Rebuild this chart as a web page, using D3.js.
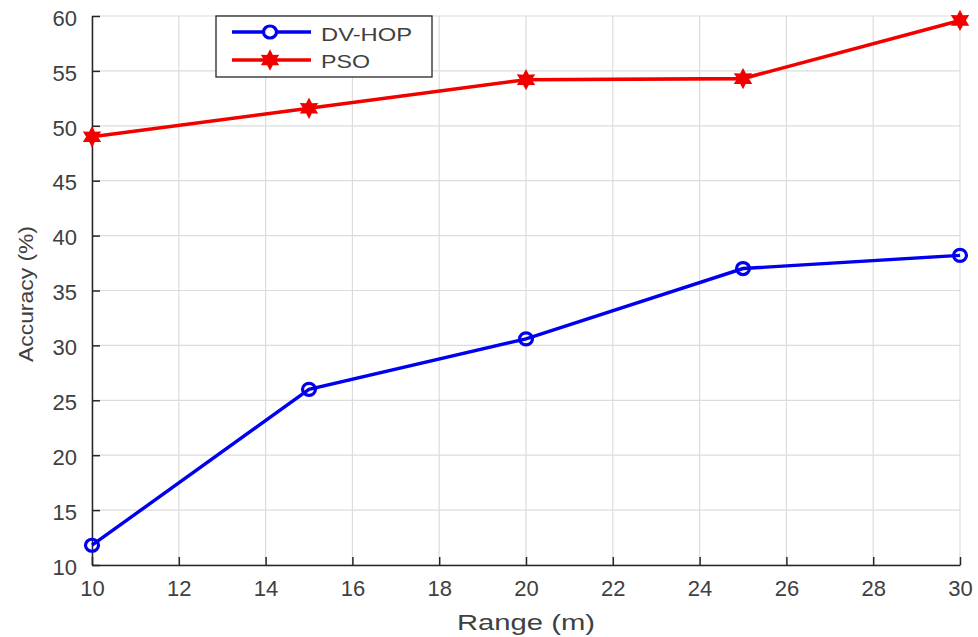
<!DOCTYPE html>
<html>
<head>
<meta charset="utf-8">
<script src="https://cdn.jsdelivr.net/npm/d3@7"></script>
<style>
  body { margin: 0; background: #fff; }
  svg { display: block; }
  text { font-family: "Liberation Sans", Arial, sans-serif; }
</style>
</head>
<body>
<svg id="chart" width="978" height="637"></svg>
<script>
// Node range (m) versus localisation accuracy for two methods
const ranges = [10, 15, 20, 25, 30];
const dvhop = [11.8, 26.0, 30.6, 37.0, 38.2];
const pso = [49.0, 51.6, 54.2, 54.3, 59.6];
const xTicks = [10, 12, 14, 16, 18, 20, 22, 24, 26, 28, 30];
const yTicks = [10, 15, 20, 25, 30, 35, 40, 45, 50, 55, 60];
const seriesNames = ["DV-HOP", "PSO"];

const svg = d3.select("#chart");
const plotL = 92, plotR = 960, plotT = 16, plotB = 565;

const x = d3.scaleLinear().domain([10, 30]).range([plotL, plotR]);
const y = d3.scaleLinear().domain([10, 60]).range([plotB, plotT]);

const gridColor = "#dcdcdc";
const axisColor = "#262626";
const labelColor = "#404040";

// grid
svg.append("g").selectAll("line").data(xTicks).join("line")
  .attr("x1", d => x(d)).attr("x2", d => x(d))
  .attr("y1", plotT).attr("y2", plotB)
  .attr("stroke", gridColor).attr("stroke-width", 1.2);
svg.append("g").selectAll("line").data(yTicks).join("line")
  .attr("x1", plotL).attr("x2", plotR)
  .attr("y1", d => y(d)).attr("y2", d => y(d))
  .attr("stroke", gridColor).attr("stroke-width", 1.2);

// axes with inward ticks
const xAxis = d3.axisBottom(x).tickValues(xTicks).tickSizeInner(-8).tickSizeOuter(0).tickPadding(15);
const yAxis = d3.axisLeft(y).tickValues(yTicks).tickSizeInner(-8).tickSizeOuter(0).tickPadding(15);

const gx = svg.append("g").attr("transform", `translate(0,${plotB})`).call(xAxis);
const gy = svg.append("g").attr("transform", `translate(${plotL},0)`).call(yAxis);
[gx, gy].forEach(g => {
  g.select(".domain").attr("stroke", axisColor).attr("stroke-width", 1.5);
  g.selectAll(".tick line").attr("stroke", axisColor).attr("stroke-width", 1.5);
  g.selectAll(".tick text").attr("fill", labelColor).style("font-size", "22px")
    .style("font-family", "'Liberation Sans', Arial, sans-serif");
});
gy.selectAll(".tick text").attr("dy", "0.42em");

// axis titles
svg.append("text").attr("x", 526).attr("y", 630)
  .attr("text-anchor", "middle").attr("fill", labelColor).style("font-size", "22px")
  .attr("textLength", 138).attr("lengthAdjust", "spacingAndGlyphs")
  .text("Range (m)");
svg.append("text")
  .attr("transform", `translate(33,294) rotate(-90)`)
  .attr("text-anchor", "middle").attr("fill", labelColor).style("font-size", "21px")
  .attr("textLength", 136).attr("lengthAdjust", "spacingAndGlyphs")
  .text("Accuracy (%)");

// hexagram marker path centred on 0,0
function hexagram(r) {
  const pts = [];
  for (let i = 0; i < 12; i++) {
    const a = -Math.PI / 2 + i * Math.PI / 6;
    const rr = i % 2 === 0 ? r : r * 0.55;
    pts.push([rr * Math.cos(a), rr * Math.sin(a)]);
  }
  return "M" + pts.map(p => p.join(",")).join("L") + "Z";
}

const line = d3.line().x(d => x(d[0])).y(d => y(d[1]));
const blue = "#0000ee", red = "#f20000";

const dvData = ranges.map((r, i) => [r, dvhop[i]]);
const psoData = ranges.map((r, i) => [r, pso[i]]);

svg.append("path").datum(dvData).attr("d", line)
  .attr("fill", "none").attr("stroke", blue).attr("stroke-width", 3.4);
svg.append("g").selectAll("ellipse").data(dvData).join("ellipse")
  .attr("cx", d => x(d[0])).attr("cy", d => y(d[1]))
  .attr("rx", 6.5).attr("ry", 6)
  .attr("fill", "none").attr("stroke", blue).attr("stroke-width", 3.2);

svg.append("path").datum(psoData).attr("d", line)
  .attr("fill", "none").attr("stroke", red).attr("stroke-width", 3.6);
svg.append("g").selectAll("path").data(psoData).join("path")
  .attr("transform", d => `translate(${x(d[0])},${y(d[1])})`)
  .attr("d", hexagram(8.5))
  .attr("fill", red).attr("stroke", red).attr("stroke-width", 2);

// legend
const lg = svg.append("g");
lg.append("rect").attr("x", 216).attr("y", 16).attr("width", 216).attr("height", 61)
  .attr("fill", "#fff").attr("stroke", axisColor).attr("stroke-width", 1.3);
const rows = [
  { name: seriesNames[0], color: blue, y: 32, base: 41, len: 91 },
  { name: seriesNames[1], color: red, y: 60, base: 68, len: 49 }
];
rows.forEach((r, i) => {
  lg.append("line").attr("x1", 232).attr("x2", 311).attr("y1", r.y).attr("y2", r.y)
    .attr("stroke", r.color).attr("stroke-width", 3.4);
  if (i === 0) {
    lg.append("ellipse").attr("cx", 270).attr("cy", r.y).attr("rx", 6.5).attr("ry", 6)
      .attr("fill", "#fff").attr("stroke", r.color).attr("stroke-width", 3.2);
  } else {
    lg.append("path").attr("transform", `translate(270,${r.y})`).attr("d", hexagram(8.5))
      .attr("fill", r.color).attr("stroke", r.color).attr("stroke-width", 2);
  }
  lg.append("text").attr("x", 321).attr("y", r.base).attr("fill", labelColor)
    .style("font-size", "19px")
    .attr("textLength", r.len).attr("lengthAdjust", "spacingAndGlyphs")
    .text(r.name);
});
</script>
</body>
</html>
